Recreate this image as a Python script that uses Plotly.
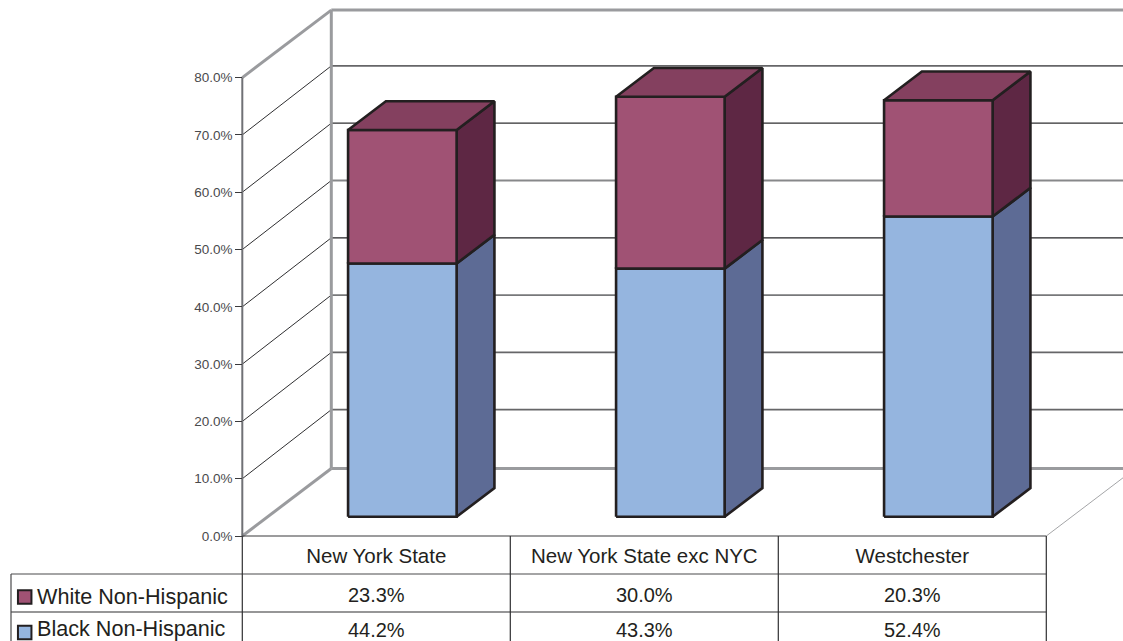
import plotly.graph_objects as go

categories = ["New York State", "New York State exc NYC", "Westchester"]
black_values = [44.2, 43.3, 52.4]
white_values = [23.3, 30.0, 20.3]
tick_values = [0, 10, 20, 30, 40, 50, 60, 70, 80]
tick_labels = ["0.0%", "10.0%", "20.0%", "30.0%", "40.0%", "50.0%", "60.0%", "70.0%", "80.0%"]
series_names = ["White Non-Hispanic", "Black Non-Hispanic"]

W, H = 1123, 641
X0, Y0 = 242.3, 536.0      # pixel of the category origin / value zero
PX_CAT, PX_VAL = 268.0, 5.73
DEPTH_X = 89.0 / PX_CAT    # wall depth in category units
DEPTH_Y = 67.5 / PX_VAL    # wall depth in value units
GRID_LIFT = 1.5 / PX_VAL   # back-wall grid sits slightly above the projected position
BAR_START, BAR_WIDTH = 0.30, 0.405
D0, D1 = 0.285, 0.71       # bar depth extent

TEXT = "#231f20"
EDGE = "#231f20"
WALL = "#9a9b9e"
FONT = "Liberation Sans"
GRID_STYLES = [("#666668", 1.8), ("#666668", 1.6), ("#77787a", 1.6), ("#222224", 1.2),
               ("#87888a", 2.2), ("#2f2f31", 1.2), ("#666668", 1.6)]


def px(x):
    return (x - X0) / PX_CAT


def py(y):
    return (Y0 - y) / PX_VAL


def proj(cat, val, depth=0.0):
    return cat + depth * DEPTH_X, val + depth * DEPTH_Y


fig = go.Figure()


def poly(points, fill=None, line=None, width=1.0, close=False):
    xs = [p[0] for p in points]
    ys = [p[1] for p in points]
    if close:
        xs.append(xs[0])
        ys.append(ys[0])
    kw = dict(x=xs, y=ys, mode="lines", hoverinfo="skip", showlegend=False,
              line=dict(color=line or "rgba(0,0,0,0)", width=width))
    if fill:
        kw.update(fill="toself", fillcolor=fill)
    fig.add_trace(go.Scatter(**kw))


right = px(W + 2)

# back-wall and side-wall grid
for v, (col, wid) in zip(tick_values[1:-1], GRID_STYLES):
    bx, by = proj(0, v, 1)
    by += GRID_LIFT
    poly([proj(0, v), (bx, by)], line="#2f2f31", width=1)
    poly([(bx, by), (right, by)], line=col, width=wid)

# walls and floor
poly([proj(0, 0, 1), proj(0, 80, 1)], line=WALL, width=3)
poly([proj(0, 80, 1), (right, proj(0, 80, 1)[1])], line=WALL, width=3)
poly([proj(0, 0, 1), (right, proj(0, 0, 1)[1])], line=WALL, width=3)
poly([proj(0, 80), proj(0, 80, 1)], line=WALL, width=3)
poly([proj(0, 0), proj(0, 0, 1)], line=WALL, width=3)
poly([proj(0, 0), proj(0, 80)], line="#707175", width=2)
poly([proj(3, 0), proj(3, 0, 0.87)], line="#8d8e91", width=0.8)

# stacked 3-D bars
STYLES = [("#95b5df", "#5d6b95", "#5d6b95"), ("#a05274", "#5e2744", "#84405f")]
for i in range(len(categories)):
    base = 0.0
    for values, (front, side, top) in zip([black_values, white_values], STYLES):
        lo, hi = base, base + values[i]
        xa, xb = i + BAR_START, i + BAR_START + BAR_WIDTH
        poly([proj(xb, lo, D0), proj(xb, lo, D1), proj(xb, hi, D1), proj(xb, hi, D0)],
             fill=side, line=EDGE, width=2.6, close=True)
        poly([proj(xa, lo, D0), proj(xb, lo, D0), proj(xb, hi, D0), proj(xa, hi, D0)],
             fill=front, line=EDGE, width=2.6, close=True)
        base = hi
    xa, xb = i + BAR_START, i + BAR_START + BAR_WIDTH
    poly([proj(xa, base, D0), proj(xb, base, D0), proj(xb, base, D1), proj(xa, base, D1)],
         fill=top, line=EDGE, width=2.6, close=True)

# data table
row_y = [py(536), py(574), py(612), py(H + 3)]
left = px(11)
poly([(0, row_y[0]), (3, row_y[0])], line="#3a3a3c", width=1.2)
poly([(left, row_y[1]), (3, row_y[1])], line="#4a4a4c", width=1.2)
poly([(left, row_y[2]), (3, row_y[2])], line="#2f2f31", width=1.2)
poly([(left, row_y[1]), (left, row_y[3])], line="#4a4a4c", width=1.2)
for c in range(4):
    poly([(c, row_y[0]), (c, row_y[3])], line="#2f2f31", width=1.2)

centers = [c + 0.5 for c in range(3)]
cell_font = dict(family=FONT, size=20, color=TEXT)
fig.add_trace(go.Scatter(x=centers, y=[py(558)] * 3, text=categories, mode="text",
                         textposition="middle center", hoverinfo="skip", showlegend=False,
                         textfont=dict(family=FONT, size=20.5, color=TEXT)))
fig.add_trace(go.Scatter(x=centers, y=[py(597)] * 3, text=[f"{v:.1f}%" for v in white_values],
                         mode="text", textposition="middle center", hoverinfo="skip",
                         showlegend=False, textfont=cell_font))
fig.add_trace(go.Scatter(x=centers, y=[py(632)] * 3, text=[f"{v:.1f}%" for v in black_values],
                         mode="text", textposition="middle center", hoverinfo="skip",
                         showlegend=False, textfont=cell_font))

# legend keys in the table
for name, ypix, ytext, colour in zip(series_names, [597, 632.5], [598.5, 631],
                                     ["#a05274", "#95b5df"]):
    fig.add_trace(go.Scatter(x=[px(24.7)], y=[py(ypix)], mode="markers", hoverinfo="skip",
                             showlegend=False,
                             marker=dict(symbol="square", size=13.5, color=colour,
                                         line=dict(color=EDGE, width=2))))
    fig.add_trace(go.Scatter(x=[px(37)], y=[py(ytext)], text=[name], mode="text",
                             textposition="middle right", hoverinfo="skip", showlegend=False,
                             textfont=dict(family=FONT, size=21.6, color=TEXT)))

fig.update_layout(
    width=W, height=H,
    margin=dict(l=0, r=0, t=0, b=0),
    paper_bgcolor="white", plot_bgcolor="white",
    showlegend=False,
    xaxis=dict(range=[px(0), px(W)], visible=False, fixedrange=True),
    yaxis=dict(range=[py(H), py(0)], anchor="free", position=X0 / W, side="left",
               tickmode="array", tickvals=tick_values, ticktext=tick_labels,
               ticks="outside", ticklen=7, tickwidth=1.2, tickcolor="#3a3a3c",
               tickfont=dict(family=FONT, size=13.5, color="#4a4a4c"),
               showgrid=False, zeroline=False, showline=False, fixedrange=True),
)
fig.write_html("out.html", config=dict(displayModeBar=False),
               post_script="document.body.style.margin='0';document.body.style.overflow='hidden';")
